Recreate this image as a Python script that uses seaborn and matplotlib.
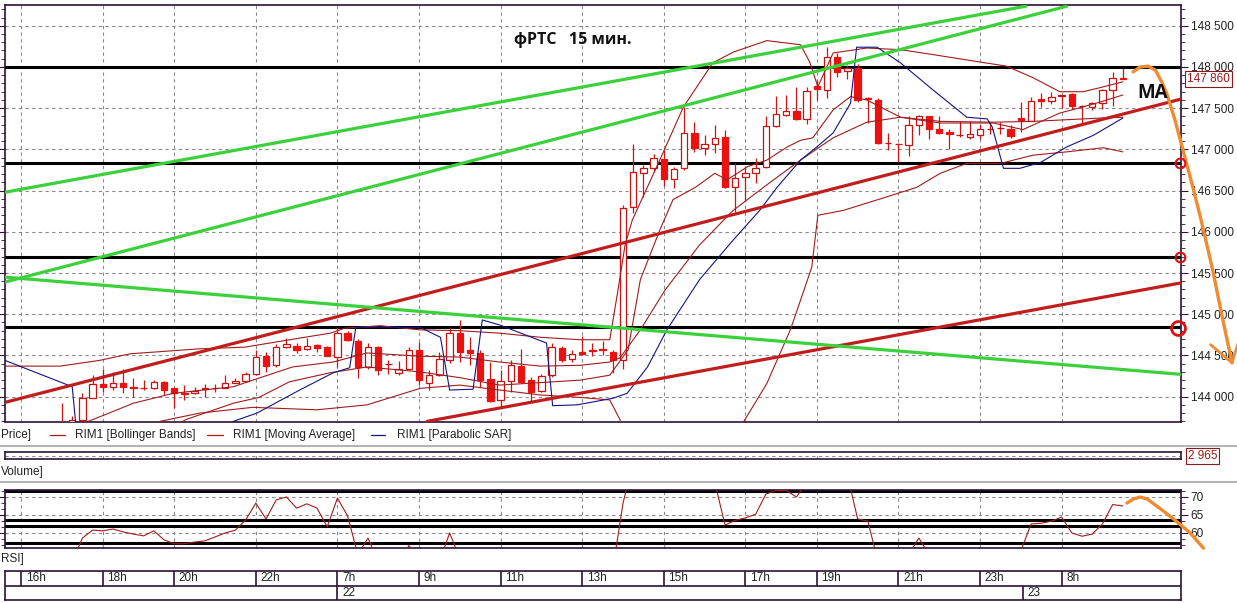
import numpy as np
import pandas as pd
import matplotlib
matplotlib.use("Agg")
import matplotlib.pyplot as plt
from matplotlib.lines import Line2D
from matplotlib.ticker import MultipleLocator
import seaborn as sns

# ---- data (15 min candles, index 0 = first candle) ----
opens = [143660, 143690, 143720, 143980, 144150, 144120, 144160, 144120, 144110, 144100,
         144180, 144100, 144040, 144040, 144110, 144110, 144110, 144170, 144190, 144270,
         144490, 144380, 144600, 144620, 144580, 144630, 144600, 144480, 144770, 144680,
         144360, 144600, 144400, 144290, 144330, 144570, 144170, 144260, 144450, 144770,
         144560, 144530, 144210, 143960, 144190, 144370, 144200, 144070, 144260, 144590,
         144460, 144540, 144570, 144580, 144540, 144450, 146300, 146710, 146780, 146880,
         146640, 146770, 147200, 147020, 147070, 147150, 146540, 146660, 146710, 146790,
         147280, 147420, 147460, 147370, 147770, 147720, 148120, 147950, 147990, 147620,
         147600, 147080, 147070, 147050, 147300, 147400, 147250, 147210, 147180, 147150,
         147180, 147250, 147260, 147250, 147380, 147350, 147610, 147590, 147650, 147670,
         147530, 147510, 147560, 147720, 147870]
highs = [143920, 143770, 144040, 144260, 144340, 144300, 144330, 144220, 144200, 144200,
         144190, 144110, 144140, 144120, 144150, 144150, 144260, 144220, 144300, 144570,
         144540, 144640, 144710, 144650, 144710, 144640, 144610, 144850, 144800, 144700,
         144650, 144620, 144450, 144430, 144600, 144660, 144320, 144540, 144850, 144930,
         144720, 144570, 144420, 144320, 144450, 144580, 144240, 144270, 144650, 144620,
         144560, 144740, 144650, 144680, 144570, 146330, 147060, 146810, 146950, 146990,
         146790, 147520, 147330, 147180, 147300, 147240, 146840, 146790, 146900, 147400,
         147650, 147660, 147760, 147760, 147840, 148240, 148170, 148030, 148040, 147640,
         147620, 147200, 147080, 147400, 147420, 147410, 147400, 147250, 147350, 147340,
         147310, 147330, 147330, 147300, 147580, 147640, 147690, 147700, 147660, 147690,
         147540, 147580, 147730, 147940, 147990]
lows = [143500, 143680, 143700, 143980, 144050, 144080, 144040, 143990, 144080, 144090,
        144020, 143860, 143960, 144030, 144000, 144060, 144100, 144160, 144180, 144260,
        144300, 144360, 144590, 144530, 144560, 144540, 144490, 144360, 144680, 144230,
        144330, 144260, 144280, 144260, 144320, 144140, 144080, 144250, 144410, 144420,
        144380, 144120, 143930, 143860, 144060, 144160, 143940, 144060, 144240, 144420,
        144420, 144500, 144490, 144500, 144290, 144330, 146230, 146420, 146720, 146560,
        146530, 146750, 146970, 146930, 146960, 146530, 146240, 146390, 146590, 146780,
        147270, 147400, 147360, 147310, 147600, 147620, 147880, 147860, 147570, 147320,
        147060, 146990, 146850, 146920, 147180, 147130, 147190, 147000, 147150, 147120,
        147130, 147190, 147190, 147140, 147210, 147340, 147520, 147550, 147500, 147490,
        147320, 147480, 147490, 147530, 147850]
closes = [143640, 143720, 143980, 144150, 144120, 144160, 144120, 144110, 144100, 144180,
          144080, 144040, 144030, 144070, 144090, 144100, 144160, 144190, 144270, 144480,
          144370, 144600, 144640, 144570, 144620, 144590, 144490, 144770, 144690, 144360,
          144600, 144320, 144400, 144330, 144570, 144200, 144260, 144460, 144770, 144540,
          144530, 144200, 143950, 144190, 144380, 144180, 144060, 144250, 144600, 144450,
          144520, 144520, 144550, 144560, 144440, 146290, 146720, 146780, 146890, 146640,
          146760, 147200, 147020, 147060, 147140, 146540, 146650, 146710, 146780, 147280,
          147430, 147460, 147370, 147710, 147730, 148120, 147940, 147990, 147600, 147610,
          147080, 147080, 147060, 147300, 147400, 147250, 147200, 147190, 147180, 147190,
          147250, 147250, 147260, 147160, 147360, 147590, 147590, 147630, 147660, 147530,
          147530, 147560, 147720, 147870, 147860]

rsi = [50, 52, 58.6, 60.8, 60.6, 61.1, 60.3, 59.7, 59.2, 60.6,
       58.1, 57.0, 57.0, 57.5, 57.8, 58.9, 60.0, 60.8, 63.6, 68.3,
       63.9, 69.2, 70.0, 66.9, 68.1, 66.9, 61.7, 69.7, 64.7, 54,
       58.6, 52, 49, 51, 56.5, 53, 50, 52, 60, 53,
       50, 47, 44, 47, 50, 48, 46, 49, 53, 51,
       52, 53, 54, 54, 50, 68.3, 80, 79, 80, 76,
       77, 82, 78, 78, 74, 62.2, 63.5, 64.2, 65.2, 70.8,
       71.8, 71.8, 70.0, 74, 75, 80, 77, 76, 63.9, 63.3,
       52, 51, 50, 54, 58.6, 54, 52, 51, 51, 52,
       53, 53, 53, 50, 55, 62.5, 62.7, 63.3, 64.4, 60,
       59.1, 59.7, 62.5, 67.9, 67.5]

bb_upper_idx = [-5.6, -0.2, 3.7, 6.7, 13.5, 17.9, 23.3, 26.3, 27.7, 31.2, 35.1, 39.0, 42.9,
                46.9, 50.8, 53.7, 54.5, 55.2, 55.9, 58.6, 60.9, 63.8, 65.8, 69.1, 72.4, 73.3,
                74.1, 75.6, 78.9, 82.2, 85.4, 90.0, 92.6, 95.2, 97.8, 100.1, 101.8, 104.0]
bb_upper = [144370, 144370, 144440, 144520, 144580, 144600, 144710, 144770, 144830, 144860,
            144810, 144800, 144770, 144720, 144690, 144690, 145290, 145840, 146140, 146870,
            147510, 148050, 148180, 148320, 148270, 148060, 147760, 148170, 148230, 148210,
            148150, 148060, 148010, 147870, 147700, 147700, 147750, 147820]
bb_mid_idx = [-5.6, -0.2, 3.0, 7.0, 10.9, 16.8, 18.7, 22.6, 26.6, 29.9, 35.1, 39.0, 42.9,
              46.9, 50.8, 53.7, 54.7, 56.7, 59.1, 62.5, 65.8, 69.1, 72.4, 75.6, 78.9, 82.2,
              86.1, 91.3, 95.2, 98.5, 101.8, 104.0]
bb_mid = [143410, 143570, 143720, 143920, 144040, 144120, 144200, 144360, 144420, 144530,
          144490, 144480, 144420, 144370, 144380, 144420, 144470, 144810, 145290, 145840,
          146260, 146570, 146870, 147140, 147330, 147390, 147340, 147330, 147340, 147360,
          147380, 147390]
bb_low_idx = [-5.6, 5.0, 9.6, 13.5, 18.7, 25.0, 29.9, 35.1, 39.0, 42.9, 46.9, 50.8, 53.7,
              54.7, 56.0, 62.0, 66.8, 69.1, 71.4, 72.4, 73.5, 74.1, 76.6, 80.5, 83.8, 86.1,
              88.7, 92.0, 95.2, 98.5, 102.1, 104.0]
bb_low = [143200, 143450, 143700, 143800, 143870, 143840, 143900, 144100, 144140, 144080,
          144020, 143990, 143960, 143720, 142800, 142400, 143690, 144160, 144810, 145170,
          145570, 146200, 146260, 146410, 146540, 146710, 146830, 146830, 146930, 146970,
          147020, 146970]
ma_idx = [8.0, 12.1, 16.8, 19.3, 22.3, 26.3, 29.9, 35.1, 39.0, 42.9, 46.9, 50.8, 53.7, 55.5,
          56.7, 58.6, 59.9, 62.1, 64.0, 65.2, 67.2, 69.1, 71.1, 72.4, 73.6, 75.6, 77.3, 78.9,
          82.2, 86.1, 91.3, 94.2, 97.8, 101.4, 104.0]
ma = [143400, 143720, 143920, 143990, 144180, 144290, 144360, 144300, 144230, 144140, 144170,
      144200, 144260, 144570, 145420, 146020, 146390, 146540, 146710, 146630, 146790, 146870,
      147030, 147110, 147140, 147480, 147640, 147600, 147390, 147320, 147320, 147240, 147440,
      147560, 147660]
sar_idx = [-5.6, 1.0, 1.5, 16.0, 16.8, 19.1, 23.3, 26.6, 28.2, 28.8, 35.1, 37.1, 38.0, 40.3,
           41.2, 42.9, 47.5, 48.1, 50.5, 54.0, 55.4, 57.4, 59.3, 62.5, 65.8, 68.4, 70.1, 72.4,
           74.0, 75.6, 77.3, 77.9, 79.9, 82.2, 85.4, 88.7, 90.7, 91.2, 92.3, 93.9, 95.9, 98.5,
           101.1, 104.0]
sar = [144440, 144120, 143470, 143550, 143700, 143800, 144080, 144290, 144350, 144840, 144840,
       144720, 144080, 144090, 144930, 144870, 144650, 143890, 143900, 143980, 144040, 144360,
       144810, 145420, 145900, 146260, 146540, 146870, 147030, 147200, 147560, 148240, 148240,
       148050, 147720, 147390, 147370, 147270, 146770, 146770, 146840, 147030, 147170, 147380]

# user drawn levels and trend lines (idx, price)
levels = [148000, 146835, 145690, 144850]
green_lines = [((-5.6, 146480), (94.6, 148740)),
               ((-5.6, 145390), (98.6, 148740)),
               ((-5.6, 145450), (109.7, 144270))]
red_lines = [((-5.6, 143930), (109.7, 147610)),
             ((35.8, 143700), (109.7, 145380))]
circle_idx = [109.6, 109.6, 109.4]
circle_price = [146835, 145690, 144830]
fc_idx = [105.0, 105.7, 106.5, 107.2, 107.8, 108.3, 109.1, 109.9, 110.8, 111.6, 112.8, 113.7, 114.7]
fc_price = [147940, 148000, 148010, 147960, 147820, 147680, 147360, 146990, 146570, 146180,
            145540, 144990, 144410]
rsi_fc_idx = [104.4, 105.0, 105.7, 106.4, 107.6, 109.1, 110.6, 111.9]
rsi_fc = [68.3, 69.4, 70.0, 69.4, 66.9, 63.6, 60.0, 55.8]
rsi_levels = [71.7, 63.6, 62.0, 57.2]

hour_idx = [-4, 4, 11, 19, 27, 35, 43, 51, 59, 67, 74, 82, 90, 98]
hour_labels = ["16h", "18h", "20h", "22h", "7h", "9h", "11h", "13h",
               "15h", "17h", "19h", "21h", "23h", "8h"]
day_idx = [27, 94]
day_labels = ["22", "23"]

# ---- style ----
sns.set_style("white")
plt.rcParams['font.family'] = ['Liberation Sans', 'DejaVu Sans']

W, H = 1237, 603
fig = plt.figure(figsize=(W / 100, H / 100), dpi=100)
fig.patch.set_facecolor("white")

def axes_px(x0, y0, x1, y1):
    return fig.add_axes([x0 / W, 1 - y1 / H, (x1 - x0) / W, (y1 - y0) / H])

XL = (-5.59, 109.7)
BORDER = "#2b1236"
GRID = dict(color="#8a8a8a", linestyle=(0, (3, 3)), linewidth=0.8)
IND = "#a11c1c"

# ---- price panel ----
ax = axes_px(5, 5, 1181, 422)
ax.set_xlim(*XL)
ax.set_ylim(143692, 148752)
for s in ax.spines.values():
    s.set_color(BORDER)
    s.set_linewidth(1.2)
ax.set_xticks(hour_idx)
ax.set_yticks(np.arange(144000, 148501, 500))
ax.yaxis.set_minor_locator(MultipleLocator(100))
ax.set_yticklabels([f"{v // 1000} {v % 1000:03d}" for v in range(144000, 148501, 500)])
ax.grid(True, **GRID)
ax.tick_params(axis="x", bottom=False, labelbottom=False)
ax.tick_params(axis="y", which="both", left=True, right=True, labelleft=False,
               labelright=True, direction="out", colors=BORDER, labelcolor="#222222",
               labelsize=8.5, pad=2)
ax.tick_params(axis="y", which="major", length=5)
ax.tick_params(axis="y", which="minor", length=3)

for lv in levels:
    ax.axhline(lv, color="black", lw=2.2, zorder=2)

o = np.array(opens); c = np.array(closes)
hi = np.array(highs); lo = np.array(lows)
idx = np.arange(len(o))
up = c >= o
body_lo = np.minimum(o, c)
body_h = np.abs(c - o)
ax.vlines(idx, lo, hi, color="#d01414", lw=0.9, zorder=3)
ax.bar(idx[up], body_h[up], bottom=body_lo[up], width=0.62, facecolor="white",
       edgecolor="#c81212", linewidth=0.9, zorder=3.2)
ax.bar(idx[~up], body_h[~up], bottom=body_lo[~up], width=0.62, facecolor="#ec1010",
       edgecolor="#ec1010", linewidth=0.9, zorder=3.2)

for xs, ys in [(bb_upper_idx, bb_upper), (bb_mid_idx, bb_mid), (bb_low_idx, bb_low), (ma_idx, ma)]:
    sns.lineplot(x=xs, y=ys, ax=ax, color=IND, linewidth=0.8, sort=False, estimator=None, zorder=3.5)
sns.lineplot(x=sar_idx, y=sar, ax=ax, color="#141480", linewidth=0.8, sort=False,
             estimator=None, zorder=3.5)

for (x0, y0), (x1, y1) in green_lines:
    ax.plot([x0, x1], [y0, y1], color="#3bd13b", lw=2.3, zorder=4.5, solid_capstyle="butt")
for (x0, y0), (x1, y1) in red_lines:
    ax.plot([x0, x1], [y0, y1], color="#c21d1d", lw=2.3, zorder=4.4)

ax.plot(fc_idx, fc_price, color="#f28a30", lw=2.4, clip_on=False, zorder=6,
        solid_capstyle="round")
ax.plot([112.6, fc_idx[-1], 115.3], [144630, fc_price[-1], 144650], color="#f28a30",
        lw=2.0, clip_on=False, zorder=6)
ax.plot(circle_idx[:2], circle_price[:2], ls="none", marker="o", ms=7, mfc="none",
        mec="#e01010", mew=1.5, clip_on=False, zorder=7)
ax.plot(circle_idx[2:], circle_price[2:], ls="none", marker="o", ms=10, mfc="none",
        mec="#e01010", mew=2.0, clip_on=False, zorder=7)
ax.set_xlabel("")
ax.set_ylabel("")

fig.text(514 / W, 1 - 40 / H, "фРТС   15 мин.", fontsize=11.5, fontweight="bold",
         family=["Open Sans", "DejaVu Sans"], va="center", ha="left", color="#111111")
fig.text(1137 / W, 1 - 93 / H, "MA", fontsize=13.5, fontweight="bold",
         family=["Open Sans", "DejaVu Sans"], va="center", ha="left", color="#111111")
fig.text(1187 / W, 1 - 79 / H, "147 860", fontsize=8.5, color="#a01818", va="center",
         ha="left", bbox=dict(boxstyle="square,pad=0.15", fc="white", ec="#8b1a1a", lw=0.8),
         zorder=8)

# ---- legend strip and separators ----
ly = 1 - 435 / H
fig.text(1 / W, ly, "Price]", fontsize=8.5, va="center", color="#222222")
for x0, x1, col, x_txt, txt in [(50, 65, IND, 75, "RIM1 [Bollinger Bands]"),
                                 (207, 223, IND, 233, "RIM1 [Moving Average]"),
                                 (371, 385, "#141480", 397, "RIM1 [Parabolic SAR]")]:
    fig.add_artist(Line2D([x0 / W, x1 / W], [ly, ly], color=col, lw=0.9))
    fig.text(x_txt / W, ly, txt, fontsize=8.5, va="center", color="#222222")
for yy in [446, 482]:
    fig.add_artist(Line2D([0, 1], [1 - yy / H, 1 - yy / H], color="#b4b4b4", lw=1.5))

# ---- volume strip ----
av = axes_px(5, 452, 1181, 459)
av.set_xlim(*XL)
av.set_ylim(0, 2)
av.set_xticks(hour_idx)
av.set_yticks([1])
av.grid(True, **GRID)
av.tick_params(bottom=False, labelbottom=False, left=False, labelleft=False)
for s in av.spines.values():
    s.set_color(BORDER)
    s.set_linewidth(1.2)
fig.text(1 / W, 1 - 472 / H, "Volume]", fontsize=8.5, va="center", color="#222222")
fig.text(1188 / W, 1 - 456 / H, "2 965", fontsize=8.5, color="#a01818", va="center",
         ha="left", bbox=dict(boxstyle="square,pad=0.15", fc="white", ec="#8b1a1a", lw=0.8))

# ---- RSI panel ----
ar = axes_px(5, 490, 1181, 548)
ar.set_xlim(*XL)
ar.set_ylim(55.83, 71.94)
ar.set_xticks(hour_idx)
ar.set_yticks([60, 65, 70])
ar.yaxis.set_minor_locator(MultipleLocator(5 / 3))
ar.grid(True, **GRID)
ar.tick_params(axis="x", bottom=False, labelbottom=False)
ar.tick_params(axis="y", which="both", left=True, right=True, labelleft=False,
               labelright=True, direction="out", colors=BORDER, labelcolor="#222222",
               labelsize=8.5, pad=2)
ar.tick_params(axis="y", which="major", length=5)
ar.tick_params(axis="y", which="minor", length=3)
for s in ar.spines.values():
    s.set_color(BORDER)
    s.set_linewidth(1.2)
for lv in rsi_levels:
    ar.axhline(lv, color="black", lw=2.2, zorder=2)
sns.lineplot(x=np.arange(len(rsi)), y=rsi, ax=ar, color=IND, linewidth=0.8, zorder=3)
ar.plot(rsi_fc_idx, rsi_fc, color="#f28a30", lw=2.4, clip_on=False, zorder=6,
        solid_capstyle="round")
ar.set_xlabel("")
ar.set_ylabel("")
fig.text(1 / W, 1 - 559 / H, "RSI]", fontsize=8.5, va="center", color="#222222")

# ---- time axis ----
at = axes_px(5, 571, 1181, 600)
at.set_xlim(*XL)
at.set_ylim(0, 2)
at.set_xticks([])
at.set_yticks([])
for s in at.spines.values():
    s.set_color(BORDER)
    s.set_linewidth(1.2)
at.axhline(1, color=BORDER, lw=1.2)
at.vlines(hour_idx, 1, 2, color=BORDER, lw=1.2)
at.vlines(day_idx[0], 0, 1, color=BORDER, lw=1.2)
at.vlines(day_idx[1] + 0.2, 0, 1, color=BORDER, lw=1.2)
for xi, lab in zip(hour_idx, hour_labels):
    at.text(xi + 0.45, 1.5, lab, fontsize=8.5, va="center", ha="left", color="#222222")
at.text(day_idx[0] + 0.45, 0.5, day_labels[0], fontsize=8.5, va="center", ha="left", color="#222222")
at.text(day_idx[1] + 0.65, 0.5, day_labels[1], fontsize=8.5, va="center", ha="left", color="#222222")

fig.savefig("out.png", dpi=100)
